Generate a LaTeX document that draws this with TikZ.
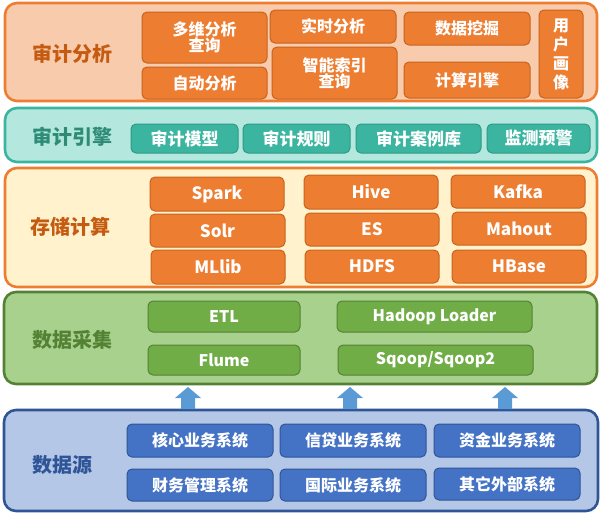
\documentclass[tikz,border=0pt]{standalone}
\usepackage{fontspec}
\setmainfont{Noto Sans CJK SC}
\setsansfont{Noto Sans CJK SC}
\definecolor{orD}{HTML}{ED7D31}
\definecolor{orL}{HTML}{F8CBAD}
\definecolor{orT}{HTML}{C55A11}
\definecolor{orB}{HTML}{C8631E}
\definecolor{crL}{HTML}{FFF2CC}
\definecolor{tlD}{HTML}{3BB5A0}
\definecolor{tlL}{HTML}{B4E7DE}
\definecolor{tlT}{HTML}{2E8B76}
\definecolor{tlB}{HTML}{2E9A86}
\definecolor{gnD}{HTML}{70AD47}
\definecolor{gnL}{HTML}{A9D18E}
\definecolor{gnT}{HTML}{548235}
\definecolor{bbD}{HTML}{4472C4}
\definecolor{bbL}{HTML}{B4C7E7}
\definecolor{bbT}{HTML}{2F5597}
\definecolor{arC}{HTML}{5B9BD5}
\tikzset{
  layer/.style={rounded corners=12pt, line width=2.6pt},
  lbl/.style={font=\bfseries\fontsize{20}{22}\selectfont},
  boxbase/.style={rounded corners=5pt, line width=1pt, inner sep=0pt, align=center, text=white,
     font=\bfseries\fontsize{16}{18}\selectfont},
  ob/.style={boxbase, fill=orD, draw=orB},
  lb/.style={ob, font=\bfseries\fontsize{17}{19}\selectfont},
  tb/.style={boxbase, fill=tlD, draw=tlB, font=\bfseries\fontsize{17}{19}\selectfont},
  gb/.style={boxbase, fill=gnD, draw=gnT, font=\bfseries\fontsize{16}{18}\selectfont},
  bb/.style={boxbase, fill=bbD, draw=bbT},
  arrowc/.style={fill=arC},
}
\newcommand{\bx}[7]{\node[#1, minimum width={(#5-#3)*1pt}, minimum height={(#6-#4)*1pt}] (#2) at ({(#3+#5)/2},{(#4+#6)/2}) {#7};}
\begin{document}
\begin{tikzpicture}[x=1pt,y=-1pt]
\useasboundingbox (0,0) rectangle (602,515);
% layer 1
\draw[layer, fill=orL, draw=orD] (5,3) rectangle (597,101);
\node[lbl, text=orT] (l1) at (72,54) {审计分析};
\bx{ob}{a1}{142}{12}{267}{63}{多维分析\\[-2pt]查询}
\bx{ob}{a2}{142}{67}{267}{99}{自动分析}
\bx{ob}{a3}{270}{10}{396}{43}{实时分析}
\bx{ob}{a4}{272}{47}{397}{99}{智能索引\\[-2pt]查询}
\bx{ob}{a5}{404}{12}{530}{45}{数据挖掘}
\bx{ob}{a6}{404}{62}{530}{98}{计算引擎}
\bx{ob}{a7}{539}{10}{583}{98}{用\\[1pt]户\\[1pt]画\\[1pt]像}
% layer 2
\draw[layer, fill=tlL, draw=tlD] (5,108) rectangle (597,162);
\node[lbl, text=tlT] (l2) at (72,137) {审计引擎};
\bx{tb}{b1}{131}{124}{238}{153}{审计模型}
\bx{tb}{b2}{243}{124}{350}{153}{审计规则}
\bx{tb}{b3}{356}{124}{481}{153}{审计案例库}
\bx{tb}{b4}{487}{124}{590}{153}{监测预警}
% layer 3
\draw[layer, fill=crL, draw=orD] (5,168) rectangle (597,287);
\node[lbl, text=orT] (l3) at (70,227) {存储计算};
\bx{lb}{c1}{150}{177}{284}{211}{Spark}
\bx{lb}{c2}{150}{214}{285}{247}{Solr}
\bx{lb}{c3}{151}{250}{285}{284}{MLlib}
\bx{lb}{c4}{304}{175}{438}{209}{Hive}
\bx{lb}{c5}{305}{213}{439}{246}{ES}
\bx{lb}{c6}{305}{250}{439}{283}{HDFS}
\bx{lb}{c7}{451}{175}{585}{208}{Kafka}
\bx{lb}{c8}{452}{212}{586}{245}{Mahout}
\bx{lb}{c9}{452}{250}{586}{283}{HBase}
% layer 4
\draw[layer, fill=gnL, draw=gnT] (4,292) rectangle (597,384);
\node[lbl, text=gnT] (l4) at (72,340) {数据采集};
\bx{gb}{d1}{148}{301}{300}{332}{ETL}
\bx{gb}{d2}{337}{301}{532}{332}{Hadoop Loader}
\bx{gb}{d3}{148}{345}{300}{375}{Flume}
\bx{gb}{d4}{338}{345}{533}{375}{Sqoop/Sqoop2}
% layer 5
\draw[layer, fill=bbL, draw=bbT] (4,410) rectangle (598,511);
\node[lbl, text=bbT] (l5) at (62,465) {数据源};
\bx{bb}{e1}{127}{424}{273}{457}{核心业务系统}
\bx{bb}{e2}{280}{424}{426}{457}{信贷业务系统}
\bx{bb}{e3}{434}{424}{580}{457}{资金业务系统}
\bx{bb}{e4}{127}{469}{273}{501}{财务管理系统}
\bx{bb}{e5}{280}{469}{426}{501}{国际业务系统}
\bx{bb}{e6}{434}{468}{580}{500}{其它外部系统}
% arrows
\foreach \n/\cx in {p1/188, p2/350, p3/505} {
  \coordinate (\n) at (\cx,409);
  \fill[arrowc] (\n) ++(-7,0) -- ++(0,-11) -- ++(-6,0) -- ++(13,-11) -- ++(13,11) -- ++(-6,0) -- ++(0,11) -- cycle;
}
\end{tikzpicture}
\end{document}
